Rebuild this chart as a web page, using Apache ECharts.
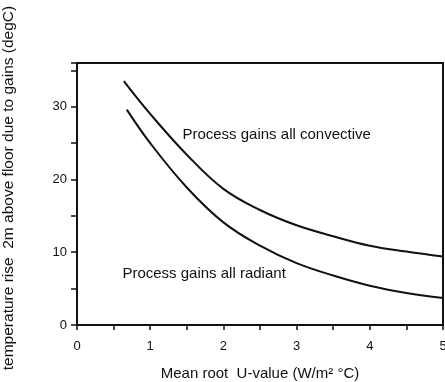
<!DOCTYPE html>
<html>
<head>
<meta charset="utf-8">
<script src="https://cdn.jsdelivr.net/npm/echarts@6/dist/echarts.min.js"></script>
<style>
html,body{margin:0;padding:0;background:#fff;}
#chart{width:445px;height:382px;}
</style>
</head>
<body>
<div id="chart"></div>
<script>
// Data
const convectiveX = [0.64, 1.0, 1.5, 2.0, 2.5, 3.0, 3.5, 4.0, 4.5, 5.0];
const convectiveY = [33.5, 29.0, 23.4, 18.7, 15.8, 13.7, 12.2, 10.9, 10.1, 9.4];
const radiantX = [0.68, 1.0, 1.5, 2.0, 2.5, 3.0, 3.5, 4.0, 4.5, 5.0];
const radiantY = [29.6, 25.0, 18.9, 14.1, 10.9, 8.5, 6.8, 5.4, 4.4, 3.7];
const xTickLabels = ['0', '1', '2', '3', '4', '5'];
const yTickLabels = ['0', '10', '20', '30'];
const seriesNames = ['Process gains all convective', 'Process gains all radiant'];
const labelAnchors = [[1.44, 26.1], [0.62, 7.0]];
const xAxisName = 'Mean root  U-value (W/m\u00B2 \u00B0C)';
const yAxisName = 'temperature rise  2m above floor due to gains (degC)';

const FONT = '"Liberation Sans", Arial, sans-serif';
const chart = echarts.init(document.getElementById('chart'), null, {renderer: 'canvas'});

function pairs(xs, ys) { return xs.map((x, i) => [x, ys[i]]); }

const option = {
  animation: false,
  backgroundColor: '#fff',
  grid: {
    left: 77, right: 2, top: 63, bottom: 57,
    outerBoundsMode: 'none', containLabel: false,
    show: true, borderColor: '#111', borderWidth: 2
  },
  xAxis: {
    type: 'value', min: 0, max: 5, interval: 0.5,
    name: xAxisName, nameLocation: 'middle', nameGap: 41,
    nameTextStyle: {fontFamily: FONT, fontSize: 15, color: '#111'},
    axisLine: {show: true, onZero: false, lineStyle: {color: '#111', width: 2}},
    axisTick: {show: true, inside: false, length: 5, lineStyle: {color: '#111', width: 1.5}},
    splitLine: {show: false},
    axisLabel: {
      margin: 15, fontFamily: FONT, fontSize: 13, color: '#111',
      formatter: v => { const s = String(v); return xTickLabels.includes(s) ? s : ''; }
    }
  },
  yAxis: {
    type: 'value', min: 0, max: 36, interval: 5,
    name: yAxisName, nameLocation: 'middle', nameGap: 60, nameRotate: 90,
    nameTextStyle: {fontFamily: FONT, fontSize: 15.5, color: '#111', padding: [0, 0, 0, 12]},
    axisLine: {show: true, lineStyle: {color: '#111', width: 2}},
    axisTick: {show: true, inside: false, length: 6, lineStyle: {color: '#111', width: 1.5}},
    splitLine: {show: false},
    axisLabel: {
      margin: 10, fontFamily: FONT, fontSize: 13, color: '#111',
      formatter: v => { const s = String(v); return yTickLabels.includes(s) ? s : ''; }
    }
  },
  series: [
    {
      name: seriesNames[0], type: 'line', smooth: 0.4, symbol: 'none',
      data: pairs(convectiveX, convectiveY),
      lineStyle: {color: '#111', width: 2}
    },
    {
      name: seriesNames[1], type: 'line', smooth: 0.4, symbol: 'none',
      data: pairs(radiantX, radiantY),
      lineStyle: {color: '#111', width: 2}
    }
  ]
};
chart.setOption(option);

const graphics = seriesNames.map((name, i) => {
  const p = chart.convertToPixel({gridIndex: 0}, labelAnchors[i]);
  return {
    type: 'text', x: p[0], y: p[1],
    style: {text: name, font: '15px ' + FONT, fill: '#111', verticalAlign: 'middle', align: 'left'}
  };
});
chart.setOption({graphic: graphics});
</script>
</body>
</html>
